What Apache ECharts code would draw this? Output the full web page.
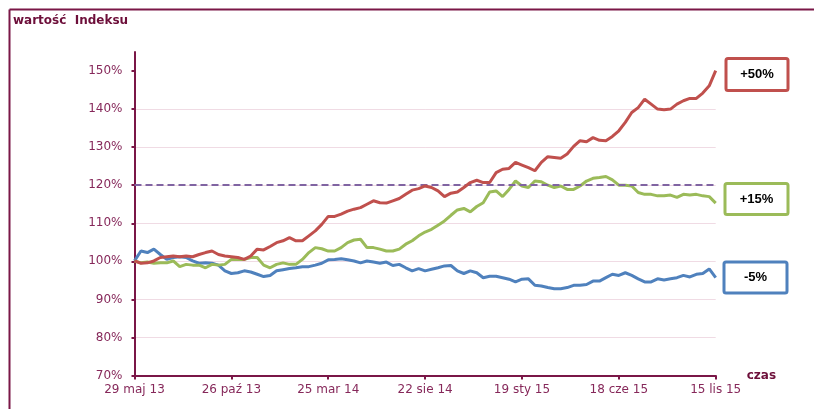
<!DOCTYPE html>
<html>
<head>
<meta charset="utf-8">
<script src="https://cdn.jsdelivr.net/npm/echarts@6/dist/echarts.min.js"></script>
<style>
html,body{margin:0;padding:0;background:#fff;}
#chart{width:814px;height:409px;}
</style>
</head>
<body>
<div id="chart"></div>
<script>
// Tick labels for x axis (every 15th sample; samples every 10 days)
const xTickLabels = ['29 maj 13', '26 paź 13', '25 mar 14', '22 sie 14', '19 sty 15', '18 cze 15', '15 lis 15'];
const yTickValues = [70, 80, 90, 100, 110, 120, 130, 140, 150];
const referenceLevel = 120;

// Series values (%), one sample per 10 days from 29 maj 13 to 15 lis 15
const red = [
  100.1, 99.5, 99.6, 100.1, 101, 101.2, 101.4, 101.2, 101.4, 101.2, 101.8, 102.3, 102.7, 101.8, 101.4, 101.2,
  101, 100.5, 101.4, 103.2, 103, 103.9, 104.9, 105.4, 106.2, 105.4, 105.4, 106.7, 108, 109.7, 111.8,
  111.8, 112.4, 113.2, 113.7, 114.1, 115, 115.9, 115.4, 115.3, 115.9, 116.5, 117.6, 118.7, 119.1, 119.8,
  119.4, 118.5, 117, 117.9, 118.2, 119.4, 120.7, 121.3, 120.7, 120.7, 123.3, 124.2, 124.4, 126, 125.3,
  124.6, 123.8, 126, 127.5, 127.3, 127.1, 128.2, 130.2, 131.7, 131.4, 132.5, 131.8, 131.7, 132.8, 134.3,
  136.5, 139.1, 140.4, 142.6, 141.3, 140, 139.8, 140, 141.3, 142.2, 142.8, 142.8, 144.2, 146.1, 150.1
];
const green = [
  100.1, 99.6, 99.8, 99.5, 99.6, 99.6, 100.1, 98.6, 99.2, 99, 99, 98.3, 99.2, 99, 99.2, 100.5,
  100.5, 100.5, 101, 101, 99, 98.3, 99.2, 99.6, 99.2, 99.2, 100.5, 102.3, 103.6, 103.3, 102.7,
  102.7, 103.6, 104.9, 105.6, 105.8, 103.6, 103.6, 103.2, 102.7, 102.7, 103.2, 104.5, 105.4, 106.7, 107.7,
  108.4, 109.5, 110.6, 112.1, 113.5, 113.9, 113, 114.4, 115.4, 118.2, 118.5, 117, 118.9, 121.1, 119.8,
  119.4, 121.1, 120.9, 120, 119.4, 119.8, 118.9, 118.9, 119.8, 121.1, 121.8, 122, 122.3, 121.4, 120,
  120, 119.8, 118.1, 117.6, 117.6, 117.2, 117.2, 117.4, 116.8, 117.6, 117.4, 117.6, 117.2, 117, 115.3
];
const blue = [
  100.1, 102.7, 102.3, 103.2, 101.8, 100.5, 101, 101.2, 101, 100.1, 99.5, 99.6, 99.5, 99, 97.5, 96.8,
  97, 97.5, 97.2, 96.6, 96, 96.3, 97.5, 97.8, 98.1, 98.3, 98.6, 98.6, 99, 99.5, 100.4,
  100.5, 100.7, 100.4, 100.1, 99.6, 100.1, 99.8, 99.5, 99.8, 98.9, 99.2, 98.3, 97.5, 98.1, 97.5,
  97.9, 98.3, 98.8, 98.9, 97.5, 96.8, 97.5, 97, 95.7, 96.1, 96.1, 95.7, 95.3, 94.6, 95.3,
  95.4, 93.7, 93.5, 93.1, 92.8, 92.8, 93.1, 93.7, 93.7, 93.9, 94.8, 94.8, 95.7, 96.6, 96.3,
  97, 96.3, 95.4, 94.6, 94.6, 95.4, 95.1, 95.4, 95.7, 96.3, 95.9, 96.6, 96.8, 98, 95.7
];
const boxLabels = ['+50%', '+15%', '-5%'];

const categories = red.map((v, i) => String(i));
const STEP = 15;

const maroon = '#7a1747';
const labelColor = '#86285a';
const cRed = '#c0504d', cGreen = '#9bbb59', cBlue = '#4f81bd';

function box(x, y, w, h, color, text) {
  return {
    type: 'group', left: x, top: y,
    children: [
      { type: 'rect', shape: { x: 0, y: 0, width: w, height: h, r: 2 },
        style: { fill: '#fff', stroke: color, lineWidth: 3 } },
      { type: 'text', x: w / 2, y: h / 2,
        style: { text: text, fill: '#000', font: 'bold 13px "Liberation Sans", Arial, sans-serif',
                 textAlign: 'center', textVerticalAlign: 'middle' } }
    ]
  };
}

const chart = echarts.init(document.getElementById('chart'), null, { renderer: 'canvas' });
chart.setOption({
  animation: false,
  backgroundColor: '#fff',
  grid: { left: 134.5, right: 98.3, top: 52, bottom: 33.5, containLabel: false },
  xAxis: {
    type: 'category', data: categories, boundaryGap: false,
    name: 'czas', nameLocation: 'end', nameGap: 31,
    nameTextStyle: { color: '#6d0f3a', fontWeight: 'bold', fontSize: 12, fontFamily: 'DejaVu Sans', verticalAlign: 'middle' },
    axisLine: { lineStyle: { color: maroon, width: 2 } },
    axisTick: { show: true, interval: STEP - 1, length: 4, lineStyle: { color: maroon, width: 2 } },
    axisLabel: {
      interval: STEP - 1, margin: 8, color: labelColor, fontSize: 12, fontFamily: 'DejaVu Sans',
      formatter: (v, idx) => (idx % STEP === 0 ? xTickLabels[idx / STEP] : '')
    },
    splitLine: { show: false }
  },
  yAxis: {
    type: 'value', min: 70, max: 155, interval: 10,
    axisLine: { show: true, lineStyle: { color: maroon, width: 2 } },
    axisTick: { show: true, length: 3, lineStyle: { color: maroon, width: 2 }, customValues: yTickValues },
    axisLabel: { color: labelColor, fontSize: 12, fontFamily: 'DejaVu Sans', margin: 12,
      customValues: yTickValues, formatter: v => v + '%' },
    splitLine: { show: true, showMaxLine: false, lineStyle: { color: '#f0dbe4', width: 1 } }
  },
  series: [
    { type: 'line', data: blue, showSymbol: false, lineStyle: { color: cBlue, width: 3 }, z: 3 },
    { type: 'line', data: green, showSymbol: false, lineStyle: { color: cGreen, width: 3 }, z: 4 },
    { type: 'line', data: red, showSymbol: false, lineStyle: { color: cRed, width: 3 }, z: 5,
      markLine: { silent: true, symbol: 'none', label: { show: false },
        lineStyle: { color: '#8064a2', type: [7, 4], width: 2 },
        data: [{ yAxis: referenceLevel }] } }
  ],
  graphic: [
    { type: 'line', shape: { x1: 9.5, y1: 9.5, x2: 814, y2: 9.5 }, style: { stroke: maroon, lineWidth: 2 } },
    { type: 'line', shape: { x1: 9.5, y1: 9.5, x2: 9.5, y2: 409 }, style: { stroke: maroon, lineWidth: 2 } },
    { type: 'text', left: 13, top: 15,
      style: { text: 'wartość  Indeksu', fill: '#6d0f3a', font: 'bold 12px "DejaVu Sans", Verdana, sans-serif' } },
    box(724.5, 57, 62, 32, cRed, boxLabels[0]),
    box(723.5, 182, 63, 31, cGreen, boxLabels[1]),
    box(722.5, 260.5, 63, 31, cBlue, boxLabels[2])
  ]
});
</script>
</body>
</html>
